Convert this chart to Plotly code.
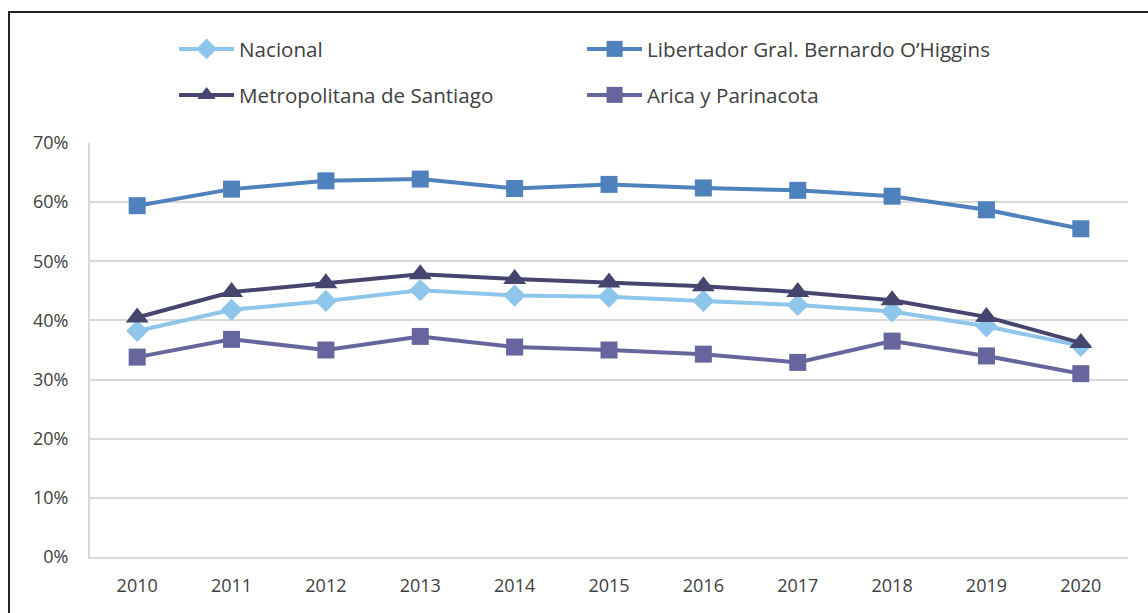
import plotly.graph_objects as go

years = ["2010", "2011", "2012", "2013", "2014", "2015", "2016", "2017", "2018", "2019", "2020"]

nacional = [0.382, 0.418, 0.433, 0.451, 0.442, 0.440, 0.433, 0.426, 0.415, 0.390, 0.357]
libertador = [0.594, 0.622, 0.636, 0.639, 0.623, 0.630, 0.624, 0.620, 0.610, 0.587, 0.555]
metropolitana = [0.405, 0.448, 0.463, 0.478, 0.470, 0.464, 0.458, 0.448, 0.434, 0.406, 0.362]
arica = [0.338, 0.368, 0.350, 0.373, 0.355, 0.350, 0.343, 0.329, 0.365, 0.340, 0.310]

names = ["Nacional", "Libertador Gral. Bernardo O\u2019Higgins",
         "Metropolitana de Santiago", "Arica y Parinacota"]

FONT = "Open Sans"
TXT = "#404040"

fig = go.Figure()

fig.add_trace(go.Scatter(x=years, y=nacional, name=names[0], mode="lines+markers",
                         line=dict(color="#8EC5EA", width=4),
                         marker=dict(symbol="diamond", size=17, color="#8EC5EA"),
                         legend="legend"))
fig.add_trace(go.Scatter(x=years, y=libertador, name=names[1], mode="lines+markers",
                         line=dict(color="#4F81BD", width=4),
                         marker=dict(symbol="square", size=17, color="#4F81BD"),
                         legend="legend"))
fig.add_trace(go.Scatter(x=years, y=metropolitana, name=names[2], mode="lines+markers",
                         line=dict(color="#45456F", width=4),
                         marker=dict(symbol="triangle-up", size=20, color="#45456F"),
                         legend="legend2"))
fig.add_trace(go.Scatter(x=years, y=arica, name=names[3], mode="lines+markers",
                         line=dict(color="#67659E", width=4),
                         marker=dict(symbol="square", size=17, color="#67659E"),
                         legend="legend2"))

legend_common = dict(orientation="h", entrywidth=338, entrywidthmode="pixels",
                     itemwidth=55,
                     xanchor="left", yanchor="middle", x=0.081,
                     font=dict(family=FONT, size=20.6, color=TXT),
                     bgcolor="rgba(0,0,0,0)", itemclick=False, itemdoubleclick=False)

fig.update_layout(
    width=1148, height=613,
    margin=dict(l=90, r=20, t=143, b=56),
    paper_bgcolor="white", plot_bgcolor="white",
    font=dict(family=FONT, size=18, color=TXT),
    showlegend=True,
    legend=dict(**legend_common, y=(557 - 49) / 414),
    legend2=dict(**legend_common, y=(557 - 95) / 414),
    xaxis=dict(type="category", range=[-0.5, len(years) - 0.5],
               showgrid=False, showline=True, linecolor="#D9D9D9",
               linewidth=2, ticks="", tickfont=dict(family=FONT, size=18, color=TXT),
               ticklabelstandoff=11, fixedrange=True, zeroline=False),
    yaxis=dict(range=[0, 0.7], dtick=0.1, tickformat=".0%", showgrid=True,
               gridcolor="#D9D9D9", gridwidth=2, showline=True, linecolor="#D9D9D9",
               linewidth=2, ticks="", zeroline=False,
               tickfont=dict(family=FONT, size=18, color=TXT),
               ticklabelstandoff=16, fixedrange=True),
    shapes=[dict(type="rect", xref="paper", yref="paper",
                 x0=(9 - 90) / 1038, x1=(1152 - 90) / 1038,
                 y0=(557 - 620) / 414, y1=(557 - 12) / 414,
                 line=dict(color="#222222", width=2), fillcolor="rgba(0,0,0,0)",
                 layer="below")],
)

fig.write_html("out.html", config={"displayModeBar": False},
               post_script="document.body.style.margin='0px';")
